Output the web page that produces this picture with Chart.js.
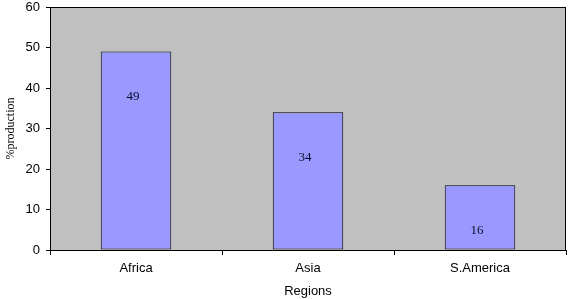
<!DOCTYPE html>
<html>
<head>
<meta charset="utf-8">
<script src="https://cdn.jsdelivr.net/npm/chart.js@4/dist/chart.umd.min.js"></script>
<style>
  html, body { margin: 0; padding: 0; background: #fff; }
  #wrap { width: 573px; height: 299px; }
</style>
</head>
<body>
<div id="wrap"><canvas id="chart"></canvas></div>
<script>
const regions = ['Africa', 'Asia', 'S.America'];
const production = [49, 34, 16];
const yTicks = [0, 10, 20, 30, 40, 50, 60];

// fond gris + cadre noir de la zone de tracé
const plotBackground = {
  id: 'plotBackground',
  beforeDraw(chart) {
    const { ctx, chartArea: a } = chart;
    ctx.save();
    ctx.fillStyle = '#c0c0c0';
    ctx.fillRect(a.left, a.top, a.right - a.left, a.bottom - a.top);
    ctx.restore();
  },
  afterDraw(chart) {
    const { ctx, chartArea: a } = chart;
    ctx.save();
    ctx.strokeStyle = '#000';
    ctx.lineWidth = 1;
    ctx.strokeRect(a.left + 0.5, a.top + 0.5, a.right - a.left - 1, a.bottom - a.top);
    ctx.restore();
  }
};

// valeurs écrites dans les barres
const barLabels = {
  id: 'barLabels',
  afterDatasetsDraw(chart) {
    const { ctx } = chart;
    const meta = chart.getDatasetMeta(0);
    ctx.save();
    ctx.font = '13px "Liberation Serif", "Times New Roman", serif';
    ctx.fillStyle = '#0a0a2a';
    ctx.textAlign = 'center';
    ctx.textBaseline = 'middle';
    meta.data.forEach((bar, i) => {
      ctx.fillText(String(production[i]), bar.x - 3, bar.y + 45);
    });
    ctx.restore();
  }
};

new Chart(document.getElementById('chart'), {
  type: 'bar',
  data: {
    labels: regions,
    datasets: [{
      data: production,
      backgroundColor: '#9999ff',
      borderColor: '#000000',
      borderWidth: 1,
      borderSkipped: false,
      categoryPercentage: 1,
      barPercentage: 0.41
    }]
  },
  options: {
    responsive: true,
    maintainAspectRatio: false,
    animation: false,
    layout: { padding: { top: 7, right: 7, left: 0, bottom: 0 } },
    plugins: {
      legend: { display: false },
      tooltip: { enabled: false }
    },
    scales: {
      x: {
        grid: {
          display: true,
          drawOnChartArea: false,
          offset: true,
          tickLength: 5,
          color: '#000'
        },
        border: { display: true, color: '#000' },
        ticks: {
          color: '#000',
          font: { family: '"Liberation Sans", Arial, sans-serif', size: 13 },
          padding: 6,
          maxRotation: 0
        },
        title: {
          display: true,
          text: 'Regions',
          color: '#000',
          font: { family: '"Liberation Sans", Arial, sans-serif', size: 13 },
          padding: { top: 2, bottom: 0 }
        },
        afterFit(scale) { scale.height = 49; }
      },
      y: {
        min: 0,
        max: 60,
        afterBuildTicks(scale) { scale.ticks = yTicks.map(v => ({ value: v })); },
        grid: {
          display: true,
          drawOnChartArea: false,
          tickLength: 4,
          color: '#000'
        },
        border: { display: true, color: '#000' },
        ticks: {
          color: '#000',
          font: { family: '"Liberation Sans", Arial, sans-serif', size: 13 },
          padding: 6
        },
        title: {
          display: true,
          text: '%production',
          color: '#000',
          font: { family: '"Liberation Serif", "Times New Roman", serif', size: 12 },
          padding: { top: 4, bottom: 2 }
        },
        afterFit(scale) {
          scale.width = 50;
          scale.paddingTop = 0;
          scale.paddingBottom = 0;
        }
      }
    }
  },
  plugins: [plotBackground, barLabels]
});
</script>
</body>
</html>
